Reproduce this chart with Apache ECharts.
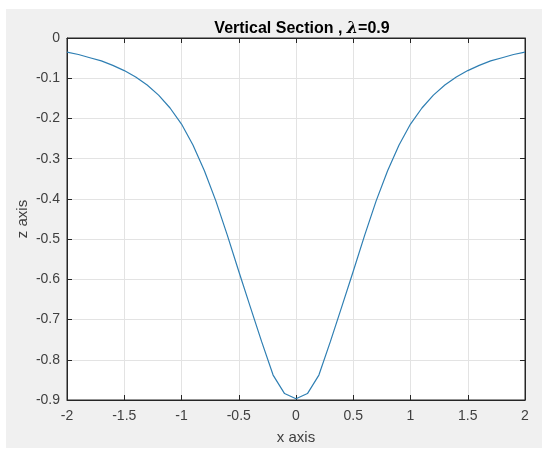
<!DOCTYPE html>
<html>
<head>
<meta charset="utf-8">
<script src="https://cdn.jsdelivr.net/npm/echarts@6/dist/echarts.min.js"></script>
<style>
html,body{margin:0;padding:0;background:#fff;}
#c{width:550px;height:455px;}
</style>
</head>
<body>
<div id="c"></div>
<script>
var xValues = [-2.0,-1.9,-1.8,-1.7,-1.6,-1.5,-1.4,-1.3,-1.2,-1.1,-1.0,-0.9,-0.8,-0.7,-0.6,-0.5,-0.4,-0.3,-0.2,-0.1,0.0,
               0.1,0.2,0.3,0.4,0.5,0.6,0.7,0.8,0.9,1.0,1.1,1.2,1.3,1.4,1.5,1.6,1.7,1.8,1.9,2.0];
var zValues = [-0.035,-0.041,-0.049,-0.057,-0.068,-0.081,-0.097,-0.117,-0.142,-0.174,-0.214,-0.266,-0.330,-0.405,-0.490,-0.580,-0.668,-0.755,-0.838,-0.884,-0.897,
               -0.884,-0.838,-0.755,-0.668,-0.580,-0.490,-0.405,-0.330,-0.266,-0.214,-0.174,-0.142,-0.117,-0.097,-0.081,-0.068,-0.057,-0.049,-0.041,-0.035];
var titleText = 'Vertical Section , ';
var lambdaText = '\u03bb';
var titleSuffix = '=0.9';
var xName = 'x axis';
var yName = 'z axis';

var pts = xValues.map(function(x,i){return [x, zValues[i]];});
var ink = '#262626';
var txt = '#404040';
var font = '"Liberation Sans", Arial, sans-serif';
var chart = echarts.init(document.getElementById('c'));
chart.setOption({
  backgroundColor: '#ffffff',
  animation: false,
  graphic: [{type:'rect', z:-10, shape:{x:6,y:9,width:536,height:439}, style:{fill:'#f0f0f0'}}],
  title: {
    text: '{a|' + titleText + '}{l|' + lambdaText + '}{a|' + titleSuffix + '}',
    left: 297, top: 16, textAlign: 'center',
    textStyle: {
      rich: {
        a: {fontFamily: font, fontWeight: 'bold', fontSize: 16, color: '#000'},
        l: {fontFamily: '"DejaVu Serif", serif', fontStyle: 'italic', fontWeight: 'bold', fontSize: 16, color: '#000'}
      }
    }
  },
  grid: {left:67, top:38, width:458, height:362, show:true, backgroundColor:'#ffffff', borderColor: ink, borderWidth:1},
  xAxis: [{
    type:'value', min:-2, max:2, interval:0.5, position:'bottom',
    name: xName, nameLocation:'middle', nameGap:30, nameMoveOverlap:false,
    nameTextStyle:{fontFamily:font, fontSize:15, color:txt},
    axisLine:{show:true, onZero:false, lineStyle:{color:ink}},
    axisTick:{show:true, inside:true, length:5, lineStyle:{color:ink}},
    axisLabel:{fontFamily:font, fontSize:14, color:txt, margin:9},
    splitLine:{show:true, lineStyle:{color:'#e3e3e3'}}
  },{
    type:'value', min:-2, max:2, interval:0.5, position:'top',
    axisLine:{show:true, onZero:false, lineStyle:{color:ink}},
    axisTick:{show:true, inside:true, length:5, lineStyle:{color:ink}},
    axisLabel:{show:false}, splitLine:{show:false}
  }],
  yAxis: [{
    type:'value', min:-0.9, max:0, interval:0.1, position:'left',
    name: yName, nameLocation:'middle', nameGap:37, nameMoveOverlap:false,
    nameTextStyle:{fontFamily:font, fontSize:15, color:txt},
    axisLine:{show:true, onZero:false, lineStyle:{color:ink}},
    axisTick:{show:true, inside:true, length:5, lineStyle:{color:ink}},
    axisLabel:{fontFamily:font, fontSize:14, color:txt, margin:7,
      formatter:function(v){return String(Math.round(v*10)/10);}},
    splitLine:{show:true, lineStyle:{color:'#e3e3e3'}}
  },{
    type:'value', min:-0.9, max:0, interval:0.1, position:'right',
    axisLine:{show:true, onZero:false, lineStyle:{color:ink}},
    axisTick:{show:true, inside:true, length:5, lineStyle:{color:ink}},
    axisLabel:{show:false}, splitLine:{show:false}
  }],
  series: [{
    type:'line', data: pts, showSymbol:false, symbol:'none',
    lineStyle:{color:'#2f7fb3', width:1.2}, smooth:false
  }]
});
</script>
</body>
</html>
